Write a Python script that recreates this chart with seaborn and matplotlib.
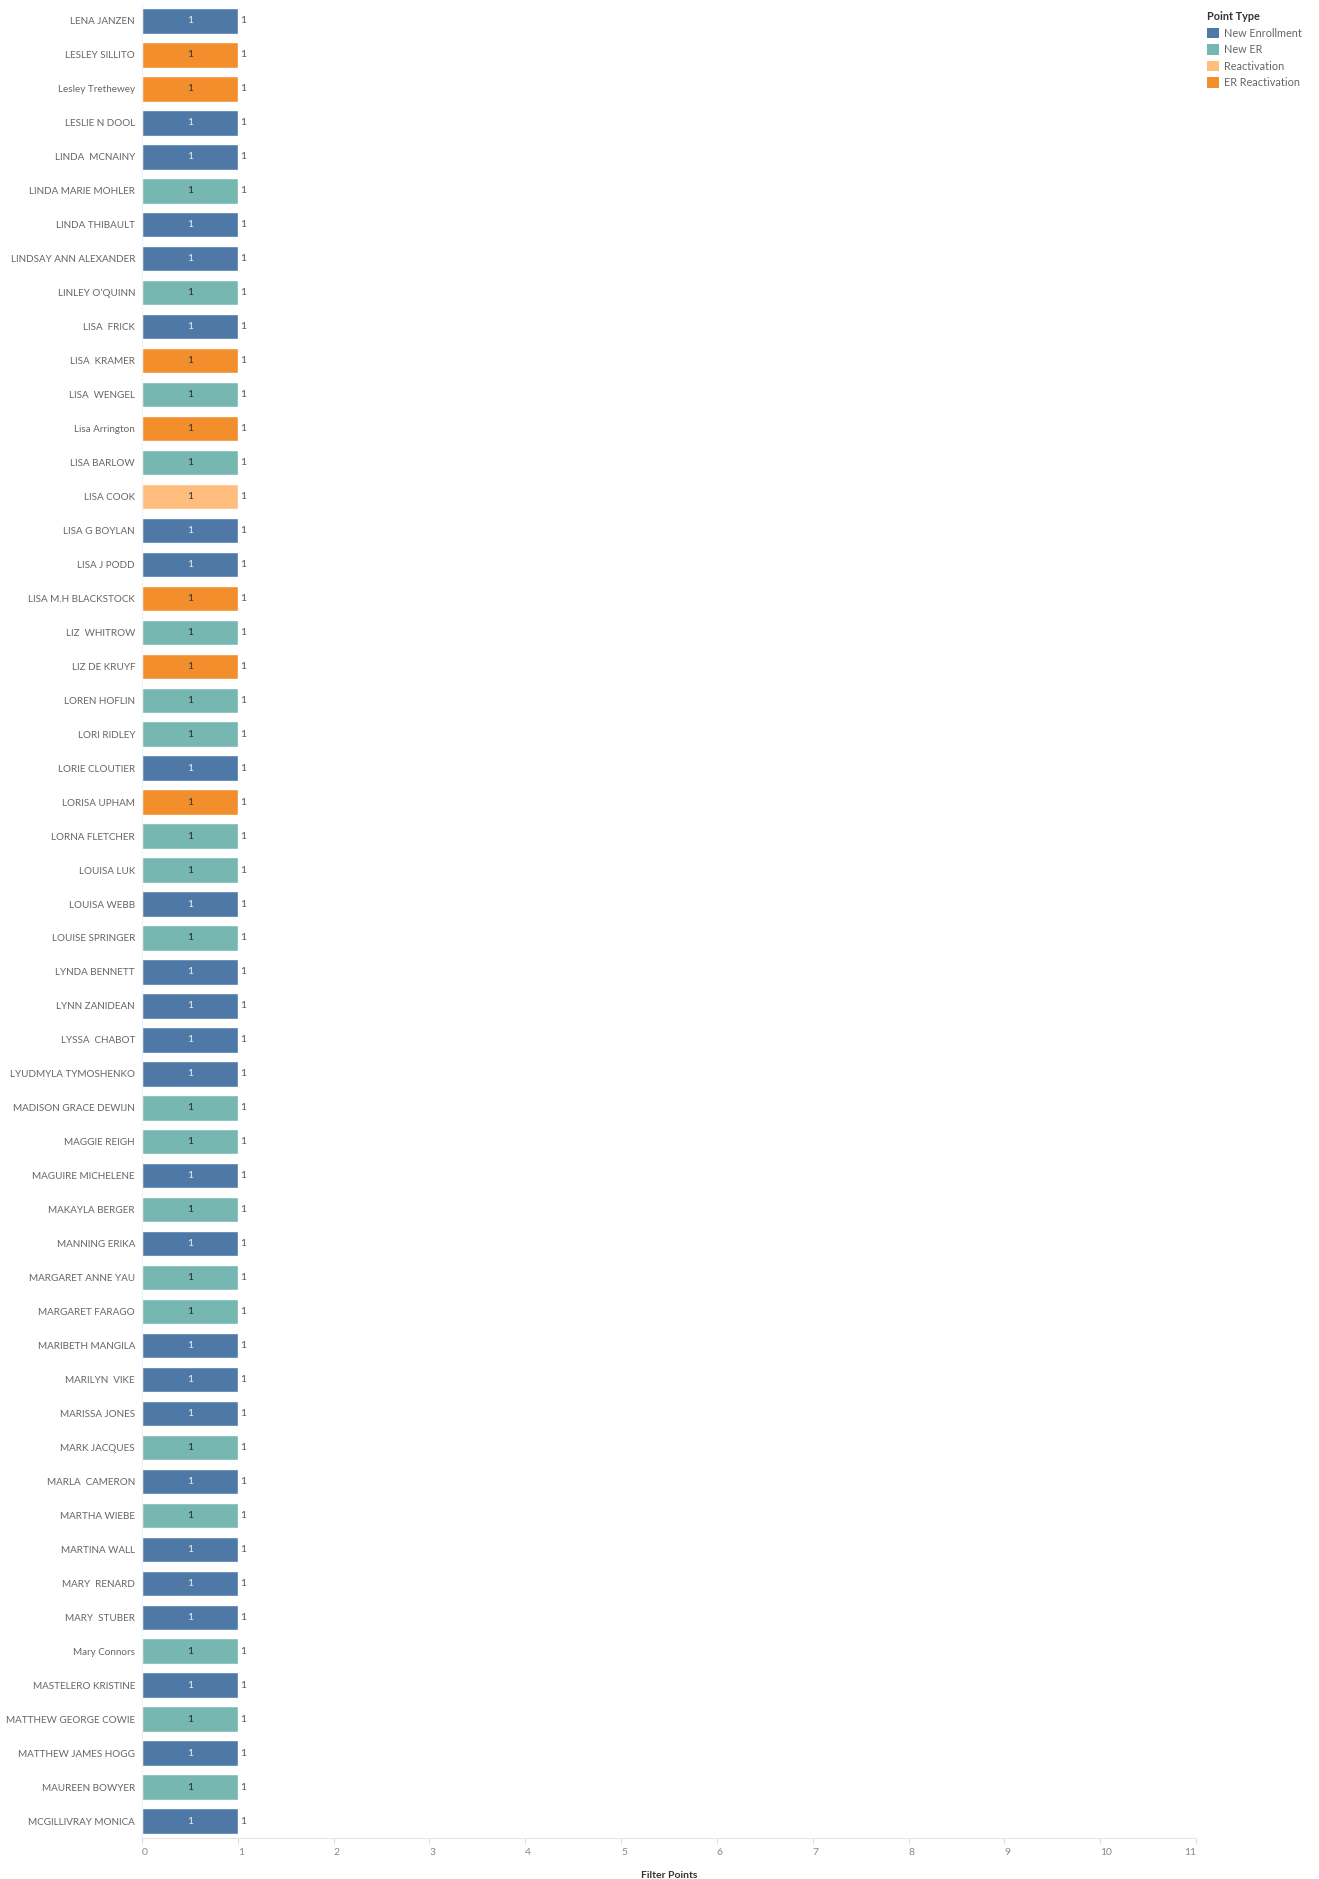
import pandas as pd
import seaborn as sns
import matplotlib.pyplot as plt
from matplotlib.patches import Patch

names = ['LENA JANZEN', 'LESLEY SILLITO', 'Lesley Trethewey', 'LESLIE N DOOL', 'LINDA  MCNAINY',
         'LINDA MARIE MOHLER', 'LINDA THIBAULT', 'LINDSAY ANN ALEXANDER', 'LINLEY O\u2019QUINN', 'LISA  FRICK',
         'LISA  KRAMER', 'LISA  WENGEL', 'Lisa Arrington', 'LISA BARLOW', 'LISA COOK',
         'LISA G BOYLAN', 'LISA J PODD', 'LISA M.H BLACKSTOCK', 'LIZ  WHITROW', 'LIZ DE KRUYF',
         'LOREN HOFLIN', 'LORI RIDLEY', 'LORIE CLOUTIER', 'LORISA UPHAM', 'LORNA FLETCHER',
         'LOUISA LUK', 'LOUISA WEBB', 'LOUISE SPRINGER', 'LYNDA BENNETT', 'LYNN ZANIDEAN',
         'LYSSA  CHABOT', 'LYUDMYLA TYMOSHENKO', 'MADISON GRACE DEWIJN', 'MAGGIE REIGH', 'MAGUIRE MICHELENE',
         'MAKAYLA BERGER', 'MANNING ERIKA', 'MARGARET ANNE YAU', 'MARGARET FARAGO', 'MARIBETH MANGILA',
         'MARILYN  VIKE', 'MARISSA JONES', 'MARK JACQUES', 'MARLA  CAMERON', 'MARTHA WIEBE',
         'MARTINA WALL', 'MARY  RENARD', 'MARY  STUBER', 'Mary Connors', 'MASTELERO KRISTINE',
         'MATTHEW GEORGE COWIE', 'MATTHEW JAMES HOGG', 'MAUREEN BOWYER', 'MCGILLIVRAY MONICA']

NE, NER, RE, ERR = 'New Enrollment', 'New ER', 'Reactivation', 'ER Reactivation'
point_types = [NE, ERR, ERR, NE, NE,
               NER, NE, NE, NER, NE,
               ERR, NER, ERR, NER, RE,
               NE, NE, ERR, NER, ERR,
               NER, NER, NE, ERR, NER,
               NER, NE, NER, NE, NE,
               NE, NE, NER, NER, NE,
               NER, NE, NER, NER, NE,
               NE, NE, NER, NE, NER,
               NE, NE, NE, NER, NE,
               NER, NE, NER, NE]
points = [1] * len(names)

type_order = [NE, NER, RE, ERR]
colors = {NE: '#4e79a7', NER: '#76b7b2', RE: '#ffbe7d', ERR: '#f28e2b'}
inner_text = {NE: '#e8eef5', NER: '#1f2d2c', RE: '#333333', ERR: '#333333'}

df = pd.DataFrame({'name': names, 'type': point_types, 'points': points})

sns.set_style('white')
plt.rcParams['font.family'] = ['Lato', 'DejaVu Sans']

fig = plt.figure(figsize=(13.19, 18.79), dpi=100)
ax = fig.add_axes([142 / 1319, 1 - 1838 / 1879, (1196 - 142) / 1319, (1838 - 4) / 1879])

sns.barplot(data=df, x='points', y='name', hue='type', hue_order=type_order, order=names,
            palette=colors, dodge=False, width=0.75, orient='h', legend=False, ax=ax,
            saturation=1)

# value labels: one in the middle of each bar, one just past its end
for cont, t in zip(ax.containers, type_order):
    labs = ['1' if w == w and w > 0 else '' for w in cont.datavalues]
    ax.bar_label(cont, labels=labs, label_type='center', color=inner_text[t], fontsize=7.5)
    ax.bar_label(cont, labels=labs, label_type='edge', padding=2, color='#555555', fontsize=7.5)

ax.set_xlim(0, 11)
ax.set_ylim(len(names) - 0.5, -0.5)
ax.set_xticks(range(12))
ax.set_xticklabels([str(i) for i in range(12)])
for i, lab in enumerate(ax.get_xticklabels()):
    lab.set_ha('right' if i == 11 else 'left')
ax.tick_params(axis='x', colors='#e0e0e0', labelcolor='#888888', labelsize=7.5,
               length=4, width=0.8, pad=3, direction='out', bottom=True)
ax.tick_params(axis='y', length=0, pad=5, labelcolor='#666666', labelsize=7.1)
ax.set_ylabel('')
ax.set_xlabel('Filter Points', fontsize=7.5, color='#333333', fontweight='bold', labelpad=10)

for s in ['top', 'right']:
    ax.spines[s].set_visible(False)
ax.spines['bottom'].set_color('#e6e6e6')
ax.spines['left'].set_color('#f0f0f0')
ax.spines['left'].set_linewidth(0.8)

handles = [Patch(facecolor=colors[t], edgecolor='none', label=t) for t in type_order]
leg = fig.legend(handles=handles, title='Point Type', loc='upper left',
                 bbox_to_anchor=(1203 / 1319, 1 - 7 / 1879), frameon=False,
                 fontsize=7.8, title_fontsize=7.8, handlelength=1.1, handleheight=1.1,
                 handletextpad=0.4, labelspacing=0.5, alignment='left', borderaxespad=0)
leg.get_title().set_fontweight('bold')
leg.get_title().set_color('#333333')
for txt in leg.get_texts():
    txt.set_color('#666666')

fig.savefig('out.png', dpi=100)
